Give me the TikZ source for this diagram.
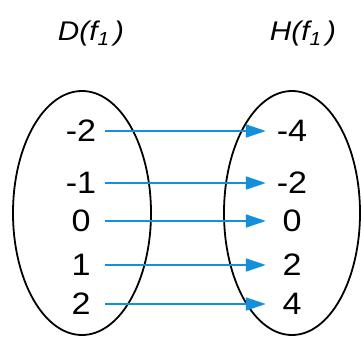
\documentclass[tikz,border=0pt]{standalone}
\usepackage{fontspec}
\setmainfont{Liberation Sans}[FakeStretch=1.1]
\usetikzlibrary{arrows.meta}
\definecolor{mapblue}{RGB}{20,144,218}
\tikzset{
  setline/.style={draw=black, line width=1.8pt},
  num/.style={font=\fontsize{31}{34}\selectfont, inner sep=0pt},
  dom/.style={num, minimum width=48pt},
  cod/.style={num, minimum width=52pt},
  maparrow/.style={draw=mapblue, line width=1.8pt, -{Triangle[length=20pt,width=13pt]}},
  title/.style={font=\fontsize{27}{30}\selectfont\itshape, anchor=base}
}
\begin{document}
\begin{tikzpicture}[x=1pt,y=1pt]
\useasboundingbox (0,0) rectangle (361,338);
% the two sets
\draw[setline] (82,125) ellipse (69 and 122);
\draw[setline] (292,125) ellipse (68 and 122);
% set names
\node[title] (dname) at (91,297) {D(f\textsubscript{1}\,)};
\node[title] (hname) at (303,297) {H(f\textsubscript{1}\,)};
% domain elements
\node[dom] (a1) at (81,207) {-2};
\node[dom] (a2) at (81,155) {-1};
\node[dom] (a3) at (81,117) {0};
\node[dom] (a4) at (81,73) {1};
\node[dom] (a5) at (81,34) {2};
% images
\node[cod] (b1) at (292,207) {-4};
\node[cod] (b2) at (292,155) {-2};
\node[cod] (b3) at (292,117) {0};
\node[cod] (b4) at (292,73) {2};
\node[cod] (b5) at (292,34) {4};
% mapping
\foreach \i in {1,...,5} \draw[maparrow] (a\i.east) -- (b\i.west);
\end{tikzpicture}
\end{document}
